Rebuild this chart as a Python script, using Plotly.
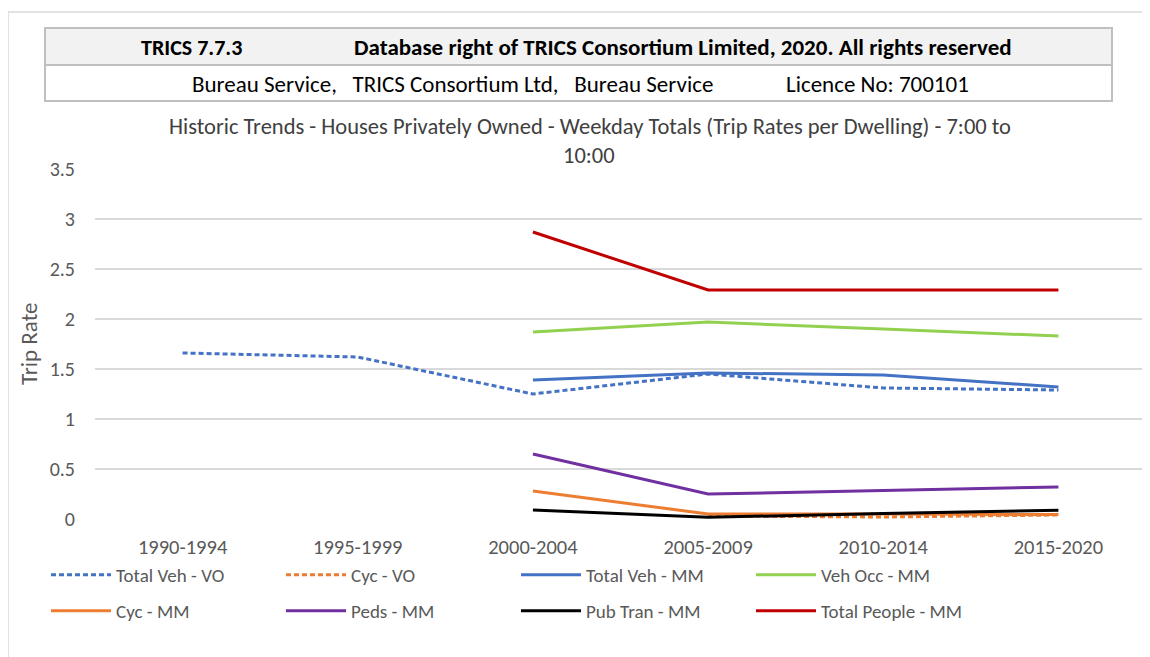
import plotly.graph_objects as go

categories = ["1990-1994", "1995-1999", "2000-2004", "2005-2009", "2010-2014", "2015-2020"]

total_veh_vo = [1.66, 1.62, 1.25, 1.45, 1.31, 1.29]
cyc_vo = [None, None, None, 0.03, 0.02, 0.04]
total_veh_mm = [None, None, 1.39, 1.46, 1.44, 1.32]
veh_occ_mm = [None, None, 1.87, 1.97, 1.90, 1.83]
cyc_mm = [None, None, 0.28, 0.05, 0.05, 0.045]
peds_mm = [None, None, 0.65, 0.25, 0.285, 0.32]
pub_tran_mm = [None, None, 0.09, 0.017, 0.055, 0.087]
total_people_mm = [None, None, 2.87, 2.29, 2.29, 2.29]

y_ticks = [0, 0.5, 1, 1.5, 2, 2.5, 3, 3.5]

# page body has an 8px margin; all target positions below are screen px
OFF = 8
W, H = 1150, 657
PLOT_L, PLOT_R, PLOT_T, PLOT_B = 95, 1146, 169, 519
ML, MR, MT, MB = PLOT_L - OFF, W - (PLOT_R - OFF), PLOT_T - OFF, H - (PLOT_B - OFF)
PW, PH = PLOT_R - PLOT_L, PLOT_B - PLOT_T


def px(x):
    return (x - PLOT_L) / PW


def py(y):
    return (PLOT_B - y) / PH


FONT = "Carlito, Calibri, Lato, sans-serif"

series = [
    ("Total Veh - VO", total_veh_vo, "#4472C4", "5px,3px", "legend"),
    ("Cyc - VO", cyc_vo, "#ED7D31", "5px,3px", "legend"),
    ("Total Veh - MM", total_veh_mm, "#4472C4", "solid", "legend"),
    ("Veh Occ - MM", veh_occ_mm, "#92D050", "solid", "legend"),
    ("Cyc - MM", cyc_mm, "#ED7D31", "solid", "legend2"),
    ("Peds - MM", peds_mm, "#7030A0", "solid", "legend2"),
    ("Pub Tran - MM", pub_tran_mm, "#000000", "solid", "legend2"),
    ("Total People - MM", total_people_mm, "#C00000", "solid", "legend2"),
]

fig = go.Figure()
for name, vals, color, dash, leg in series:
    fig.add_trace(go.Scatter(
        x=categories, y=vals, name=name, mode="lines",
        line=dict(color=color, width=3, dash=dash),
        legend=leg, connectgaps=False,
    ))

shapes = [
    dict(type="rect", xref="paper", yref="paper", x0=px(8), x1=px(1175), y0=py(680), y1=py(12),
         line=dict(color="#D9D9D9", width=1.5), fillcolor="rgba(0,0,0,0)", layer="below"),
    dict(type="rect", xref="paper", yref="paper", x0=px(45), x1=px(1112), y0=py(65), y1=py(28),
         line=dict(color="#BFBFBF", width=2), fillcolor="#F2F2F2"),
    dict(type="rect", xref="paper", yref="paper", x0=px(45), x1=px(1112), y0=py(101), y1=py(65),
         line=dict(color="#BFBFBF", width=2), fillcolor="#FFFFFF"),
]

ann = []


def add_text(t, x, y, size, color="#000000", bold=False, xanchor="left", angle=0):
    ann.append(dict(text=("<b>%s</b>" % t) if bold else t, x=px(x), y=py(y), xref="paper", yref="paper",
                    xanchor=xanchor, yanchor="middle", showarrow=False, textangle=angle,
                    font=dict(family=FONT, size=size, color=color)))


add_text("TRICS 7.7.3", 139, 47, 22, bold=True)
add_text("Database right of TRICS Consortium Limited, 2020. All rights reserved", 352, 47, 23, bold=True)
add_text("Bureau Service,&nbsp;&nbsp; TRICS Consortium Ltd,&nbsp;&nbsp; Bureau Service", 190, 84, 23)
add_text("Licence No: 700101", 784, 84, 23)
add_text("Historic Trends - Houses Privately Owned - Weekday Totals (Trip Rates per Dwelling) - 7:00 to", 590, 126, 22.5,
         color="#404040", xanchor="center")
add_text("10:00", 589, 155, 22.5, color="#404040", xanchor="center")
add_text("Trip Rate", 29, 344, 23, color="#595959", xanchor="center", angle=-90)

leg_common = dict(orientation="h", xanchor="left", yanchor="middle",
                  font=dict(family=FONT, size=19, color="#595959"),
                  entrywidth=160, entrywidthmode="pixels", bgcolor="rgba(0,0,0,0)", itemwidth=60)

fig.update_layout(
    width=W, height=H,
    margin=dict(l=ML, r=MR, t=MT, b=MB),
    paper_bgcolor="#FFFFFF", plot_bgcolor="#FFFFFF",
    showlegend=True,
    legend=dict(x=px(46), y=py(575), **leg_common),
    legend2=dict(x=px(46), y=py(611), **leg_common),
    xaxis=dict(type="category", categoryorder="array", categoryarray=categories,
               showgrid=False, zeroline=False, showline=False, ticks="",
               tickfont=dict(family=FONT, size=20.5, color="#595959"), ticklabelstandoff=13,
               range=[-0.5, len(categories) - 0.5]),
    yaxis=dict(range=[0, 3.5], tickvals=y_ticks, ticktext=[("%g" % v) for v in y_ticks],
               showgrid=True, gridcolor="#D9D9D9", gridwidth=1.5, zeroline=False, showline=False,
               tickfont=dict(family=FONT, size=20, color="#595959"), ticklabelstandoff=19),
    shapes=shapes,
    annotations=ann,
)

fig.write_html("out.html")
